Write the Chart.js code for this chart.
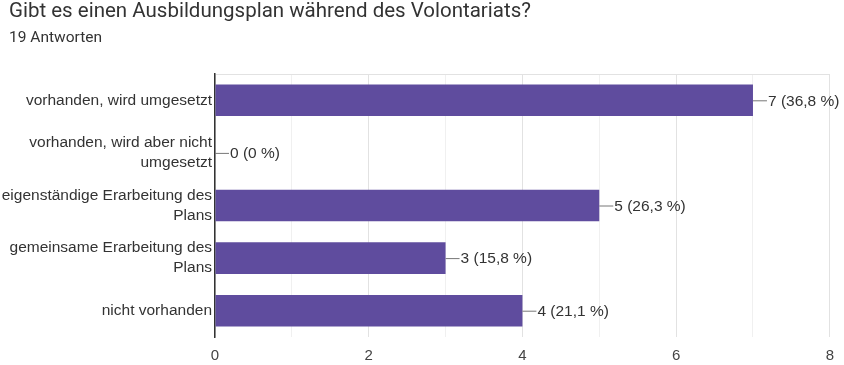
<!DOCTYPE html>
<html>
<head>
<meta charset="utf-8">
<script src="https://cdn.jsdelivr.net/npm/chart.js@4"></script>
<style>
  html, body { margin: 0; padding: 0; background: #fff; }
  #wrap { width: 844px; height: 365px; }
</style>
</head>
<body>
<div id="wrap"><canvas id="chart" width="844" height="365"></canvas></div>
<script>
// Daten aus der Umfrage
const titleText    = 'Gibt es einen Ausbildungsplan während des Volontariats?';
const subtitleText = '19 Antworten';
const categories = [
  'vorhanden, wird umgesetzt',
  ['vorhanden, wird aber nicht', 'umgesetzt'],
  ['eigenständige Erarbeitung des', 'Plans'],
  ['gemeinsame Erarbeitung des', 'Plans'],
  'nicht vorhanden'
];
const counts   = [7, 0, 5, 3, 4];
const percents = ['36,8', '0', '26,3', '15,8', '21,1'];
const xTicks   = [0, 2, 4, 6, 8];

const BAR_COLOR = '#5f4c9e';
const TEXT = '#333333';
const TITLE_FONT = 'Roboto, "Noto Sans", sans-serif';
const FONT = '"Liberation Sans", Arial, sans-serif';

// Titel + Anzahl Antworten oben links (etwas eingerückt)
const header = {
  id: 'header',
  afterDraw(chart) {
    const { ctx } = chart;
    ctx.save();
    ctx.fillStyle = TEXT;
    ctx.textAlign = 'left';
    ctx.textBaseline = 'middle';
    ctx.font = '20.5px ' + TITLE_FONT;
    ctx.fillText(titleText, 9, 11.5);
    ctx.font = '15.5px ' + TITLE_FONT;
    ctx.fillText(subtitleText, 9, 38.5);
    ctx.restore();
  }
};

// kleine Linie + Text rechts neben jedem Balken
const valueLabels = {
  id: 'valueLabels',
  afterDatasetsDraw(chart) {
    const { ctx } = chart;
    const meta = chart.getDatasetMeta(0);
    ctx.save();
    ctx.font = '15.5px ' + FONT;
    ctx.textBaseline = 'middle';
    meta.data.forEach((bar, i) => {
      const x = bar.x, y = bar.y;
      ctx.strokeStyle = '#777';
      ctx.lineWidth = 1;
      ctx.beginPath();
      ctx.moveTo(x, y + 0.5);
      ctx.lineTo(x + 14, y + 0.5);
      ctx.stroke();
      ctx.fillStyle = TEXT;
      ctx.fillText(counts[i] + ' (' + percents[i] + ' %)', x + 15, y + 1);
    });
    ctx.restore();
  }
};

const ctx = document.getElementById('chart').getContext('2d');
new Chart(ctx, {
  type: 'bar',
  data: {
    labels: categories,
    datasets: [{
      data: counts,
      backgroundColor: BAR_COLOR,
      borderWidth: 0,
      barPercentage: 0.6,
      categoryPercentage: 1
    }]
  },
  options: {
    indexAxis: 'y',
    responsive: false,
    animation: false,
    layout: { padding: { left: 0, right: 12, top: 74, bottom: -10 } },
    plugins: {
      legend: { display: false },
      tooltip: { enabled: false },
      title: { display: false }
    },
    scales: {
      x: {
        min: 0,
        max: 8,
        afterBuildTicks(scale) {
          scale.ticks = [];
          for (let v = 0; v <= 8; v++) scale.ticks.push({ value: v });
        },
        ticks: {
          color: '#444',
          font: { family: FONT, size: 15 },
          padding: 10,
          callback: (v) => (xTicks.includes(v) ? String(v) : '')
        },
        grid: {
          drawTicks: false,
          color: (c) => (c.tick && c.tick.value % 2 === 0 ? '#e2e2e2' : '#f0f0f0')
        },
        border: { display: false }
      },
      y: {
        afterFit(scale) { scale.width = 215; },
        ticks: {
          color: TEXT,
          font: { family: FONT, size: 15.5, lineHeight: 1.3 },
          padding: 3
        },
        grid: {
          offset: true,
          drawTicks: false,
          color: (c) => (c.index === 0 || c.index === categories.length ? '#e2e2e2' : 'rgba(0,0,0,0)')
        },
        border: { display: true, color: '#333', width: 1.5 }
      }
    }
  },
  plugins: [valueLabels, header]
});
</script>
</body>
</html>
